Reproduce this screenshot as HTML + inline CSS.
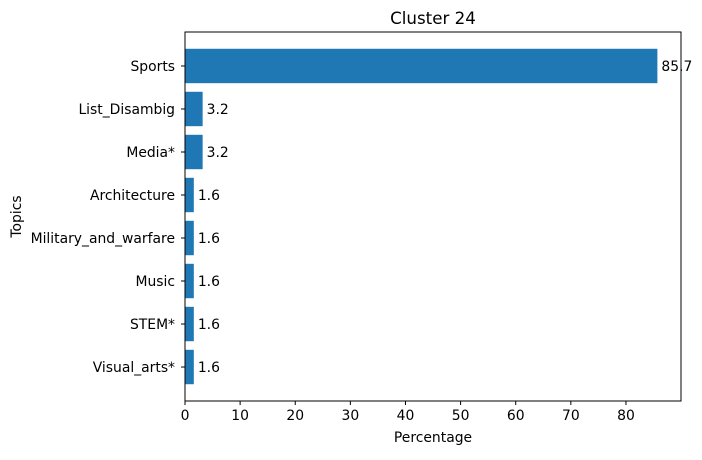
<!DOCTYPE html>
<html><head><meta charset="utf-8"><style>
body{margin:0;background:#fff;font-family:"Liberation Sans","DejaVu Sans",sans-serif;}
svg text{font-family:"DejaVu Sans","Liberation Sans",sans-serif;}
</style></head><body>
<svg id="chart" width="702" height="455" xmlns="http://www.w3.org/2000/svg"></svg>
<script>
const categories=["Sports","List_Disambig","Media*","Architecture","Military_and_warfare","Music","STEM*","Visual_arts*"];
const values=[85.7,3.2,3.2,1.6,1.6,1.6,1.6,1.6];
const labels=["85.7","3.2","3.2","1.6","1.6","1.6","1.6","1.6"];
const xTicks=[0,10,20,30,40,50,60,70,80];
const svg=document.getElementById('chart');
const NS="http://www.w3.org/2000/svg";
const L=185,R=681,T=32,B=401;
const FS=13.9;
const xmax=Math.max(...values)*1.05;
const x=v=>L+v/xmax*(R-L);
const n=categories.length;
const unit=(B-T)/((n-1+0.8)*1.1);
const y=i=>T+((n-1+0.8)*0.05+0.4+i)*unit;
function el(t,a,txt){const e=document.createElementNS(NS,t);for(const k in a)e.setAttribute(k,a[k]);if(txt!==undefined)e.textContent=txt;svg.appendChild(e);return e;}
categories.forEach((c,i)=>{
 const r=el('rect',{x:L,y:y(i)-0.4*unit,width:x(values[i])-L,height:0.8*unit,fill:'#1f77b4'});
 
 
 const v=el('text',{x:x(values[i])+4,y:y(i)+5,'font-size':FS,fill:'#000'},labels[i]);
 
 
 el('line',{x1:L-4,x2:L,y1:y(i),y2:y(i),stroke:'#000'});
 const t=el('text',{x:L-10,y:y(i)+5,'font-size':FS,'text-anchor':'end'},c);
 
 
});
xTicks.forEach(v=>{
 el('line',{x1:x(v),x2:x(v),y1:B,y2:B+4,stroke:'#000'});
 const t=el('text',{x:x(v),y:B+19,'font-size':FS,'text-anchor':'middle'},String(v));
 
 
});
const f=el('rect',{x:L,y:T,width:R-L,height:B-T,fill:'none',stroke:'#000','stroke-width':1});


const ti=el('text',{x:(L+R)/2,y:T-8,'font-size':16.7,'text-anchor':'middle'},'Cluster 24');


const xl=el('text',{x:(L+R)/2,y:442,'font-size':FS,'text-anchor':'middle'},'Percentage');


const yl=el('text',{x:0,y:0,'font-size':FS,'text-anchor':'middle',transform:'translate(21,'+((T+B)/2)+') rotate(-90)'},'Topics');


</script>
</body></html>
